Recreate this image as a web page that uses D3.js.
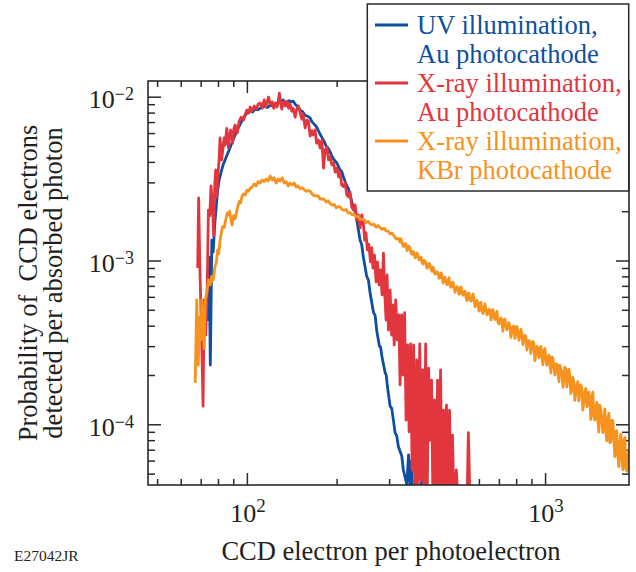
<!DOCTYPE html>
<html>
<head>
<meta charset="utf-8">
<script src="https://cdn.jsdelivr.net/npm/d3@7"></script>
<style>
  html, body { margin: 0; padding: 0; background: #fff; }
  svg { display: block; }
  text { font-family: "Liberation Serif", "Times New Roman", Times, serif; fill: #231f20; }
</style>
</head>
<body>
<svg id="chart" width="636" height="572"></svg>
<script>
// Pulse-height distributions: [CCD electrons per photoelectron, probability per absorbed photon]
const uvAu = [
  [74.3,4.27e-4],[74.7,1.05e-3],[75.4,2.30e-4],[76.3,1.33e-3],[77.1,1.13e-3],[78.0,1.65e-3],[79.0,2.18e-3],
  [79.8,2.69e-3],[80.7,3.10e-3],[82.0,3.47e-3],[83.2,3.83e-3],[84.5,4.11e-3],[85.8,4.41e-3],[87.2,4.73e-3],
  [88.5,5.07e-3],[89.9,5.44e-3],[91.3,5.84e-3],[92.8,6.26e-3],[95.0,6.80e-3],[97.2,7.40e-3],[99.5,7.85e-3],
  [102.6,8.20e-3],[104.5,8.05e-3],[106.6,8.40e-3],[108.7,8.30e-3],[110.8,8.50e-3],[113.0,8.62e-3],[115.2,8.77e-3],
  [117.4,8.60e-3],[119.7,8.90e-3],[122.0,8.80e-3],[124.4,9.00e-3],[126.8,9.20e-3],[129.3,9.30e-3],[132.3,9.55e-3],
  [134.3,9.25e-3],[136.5,9.15e-3],[138.6,9.45e-3],[140.8,9.30e-3],[143.0,9.40e-3],[145.2,9.00e-3],[148.0,8.70e-3],
  [150.9,8.29e-3],[153.8,8.10e-3],[156.8,7.70e-3],[160.0,7.60e-3],[163.0,7.40e-3],[165.5,7.00e-3],[168.1,6.80e-3],
  [170.7,6.60e-3],[173.3,6.26e-3],[176.0,5.90e-3],[178.8,5.60e-3],[181.6,5.35e-3],[184.4,5.00e-3],[187.3,4.85e-3],
  [190.2,4.60e-3],[193.2,4.30e-3],[196.2,4.11e-3],[200.4,3.94e-3],[205.4,3.57e-3],[208.0,3.50e-3],[210.6,3.25e-3],
  [216.3,2.85e-3],[219.0,2.75e-3],[221.9,2.51e-3],[227.7,2.09e-3],[230.6,2.00e-3],[233.6,1.77e-3],[239.7,1.33e-3],
  [242.7,1.25e-3],[245.8,1.05e-3],[252.3,8.0e-4],[255.6,7.6e-4],[259.0,6.3e-4],[265.7,4.85e-4],[269.3,4.6e-4],
  [272.9,3.67e-4],[278.4,3.0e-4],[281.0,2.95e-4],[283.6,2.6e-4],[290.7,2.07e-4],[293.3,2.0e-4],[296.0,1.7e-4],
  [302.2,1.29e-4],[306.0,1.25e-4],[310.0,1.06e-4],[314.0,8.9e-5],[318.1,8.5e-5],[322.3,7.3e-5],[330.7,6.4e-5],
  [334.8,5.26e-5],[343.8,4.3e-5],[348.5,6.5e-5],[352.6,4.2e-5],[356.7,6.0e-5],[361.0,3.0e-5],[369.2,3.0e-5],
  [388.0,4.7e-5],[395.8,3.0e-5]
];
const xrayAu = [
  [68.4,9.0e-4],[68.9,2.41e-3],[69.5,9.8e-4],[70.4,3.76e-4],[71.3,1.29e-4],[71.9,5.74e-4],[72.8,3.51e-4],
  [73.6,6.61e-4],[74.3,2.03e-3],[75.1,1.87e-3],[75.8,2.85e-3],[76.5,2.34e-3],[77.4,1.41e-3],[78.0,2.89e-3],
  [78.6,3.57e-3],[79.3,2.44e-3],[79.8,3.19e-3],[80.7,4.11e-3],[81.3,5.6e-3],[82.3,4.11e-3],[83.0,4.73e-3],
  [83.9,5.6e-3],[84.5,5.07e-3],[85.6,6.4e-3],[86.7,4.87e-3],[87.5,5.84e-3],[88.2,6.26e-3],[89.6,5.2e-3],
  [90.5,6.4e-3],[91.3,6.72e-3],[92.8,6.0e-3],[94.2,7.1e-3],[95.7,7.5e-3],[97.5,7.21e-3],[98.7,7.8e-3],
  [100.0,8.29e-3],[101.4,7.95e-3],[102.6,8.65e-3],[104.2,8.15e-3],[105.8,8.77e-3],[107.4,8.4e-3],[109.1,9.0e-3],
  [110.8,9.15e-3],[112.5,8.5e-3],[114.3,9.55e-3],[115.6,8.65e-3],[117.0,9.3e-3],[118.2,9.95e-3],[119.7,9.0e-3],
  [121.6,9.3e-3],[123.0,8.5e-3],[124.4,9.15e-3],[126.3,8.65e-3],[127.8,9.7e-3],[128.5,1.05e-2],[129.8,9.15e-3],
  [130.9,8.4e-3],[132.8,9.3e-3],[134.9,8.77e-3],[136.4,9.4e-3],[138.0,8.5e-3],[139.7,9.0e-3],[141.5,8.15e-3],
  [142.9,8.5e-3],[145.2,7.5e-3],[146.9,8.4e-3],[149.0,8.77e-3],[150.9,7.95e-3],[152.9,7.3e-3],[154.4,7.85e-3],
  [156.8,6.45e-3],[158.9,7.2e-3],[160.8,7.1e-3],[163.0,5.75e-3],[165.1,6.2e-3],[166.7,5.84e-3],[169.4,6.26e-3],
  [171.3,5.2e-3],[173.7,5.44e-3],[176.1,4.85e-3],[178.5,5.44e-3],[180.7,3.67e-3],[183.0,4.73e-3],[185.5,4.93e-3],
  [187.9,4.11e-3],[190.2,4.3e-3],[192.8,3.83e-3],[195.4,3.95e-3],[197.7,3.47e-3],[200.4,3.67e-3],[203.1,3.24e-3],
  [205.4,3.47e-3],[208.0,2.89e-3],[210.6,2.83e-3],[213.5,2.98e-3],[216.3,2.51e-3],[219.0,2.45e-3],[221.9,2.62e-3],
  [224.8,2.12e-3],[227.7,2.03e-3],[230.7,2.18e-3],[233.6,1.77e-3],[236.6,1.9e-3],[239.7,1.58e-3],[242.7,1.9e-3],
  [245.7,1.7e-3],[248.3,1.33e-3],[250.9,1.48e-3],[253.5,1.16e-3],[256.2,1.26e-3],[259.9,9.8e-4],[262.3,1.2e-3],
  [264.6,9.0e-4],[267.8,1.08e-3],[271.3,7.4e-4],[274.1,9.8e-4],[277.6,7.1e-4],[280.7,8.75e-4],[284.0,6.16e-4],
  [287.1,1.11e-3],[289.6,6.6e-4],[292.9,4.33e-4],[295.2,8.16e-4],[298.5,3.76e-4],[302.2,6.6e-4],[305.8,3.51e-4],
  [308.4,5.35e-4],[312.0,3.05e-4],[315.6,5.74e-4],[319.5,3.27e-4],[323.3,4.65e-4],[326.4,1.74e-4],[330.3,4.65e-4],
  [334.1,2.0e-4],[338.0,4.8e-4],[341.9,1.06e-4],[346.0,3.05e-4],[350.0,9.0e-5],[354.1,3.1e-4],[358.3,5.26e-5],
  [362.4,3.05e-4],[366.4,3.0e-5],[371.2,2.47e-4],[375.0,3.0e-5],[380.0,3.1e-4],[383.8,4.57e-5],[389.0,2.15e-4],
  [392.8,3.0e-5],[397.7,3.1e-4],[402.0,3.0e-5],[407.0,2.2e-4],[411.4,8.0e-5],[416.2,1.86e-4],[421.0,3.0e-5],
  [426.0,1.41e-4],[430.9,3.0e-5],[436.0,1.86e-4],[441.0,3.0e-5],[446.2,2.15e-4],[451.3,3.0e-5],[456.5,1.22e-4],
  [461.8,3.0e-5],[467.1,1.31e-4],[472.7,3.0e-5],[478.1,1.22e-4],[483.7,3.0e-5],[489.3,8.6e-5],[495.1,3.0e-5],
  [504.0,5.26e-5],[512.4,3.0e-5],[547.0,3.0e-5],[553.0,8.9e-5],[561.0,3.0e-5]
];
const xrayKBr = [
  [67.1,1.79e-4],[67.9,5.74e-4],[68.7,2.30e-4],[69.4,4.52e-4],[70.1,3.27e-4],[70.6,5.74e-4],[71.9,2.9e-4],
  [72.5,5.74e-4],[73.4,6.42e-4],[74.4,7.6e-4],[75.3,7.09e-4],[76.2,8.0e-4],[77.1,7.6e-4],[78.0,9.0e-4],
  [79.0,9.8e-4],[79.8,1.16e-3],[80.5,1.1e-3],[81.3,1.33e-3],[82.2,1.49e-3],[82.9,1.61e-3],[83.9,1.59e-3],
  [84.9,1.77e-3],[86.0,1.95e-3],[86.8,1.9e-3],[87.5,2.0e-3],[88.5,1.75e-3],[89.2,1.65e-3],[90.3,1.88e-3],
  [91.3,1.8e-3],[92.6,2.03e-3],[93.5,2.18e-3],[94.4,2.3e-3],[95.3,2.25e-3],[96.4,2.48e-3],[97.4,2.55e-3],
  [98.7,2.51e-3],[100.0,2.69e-3],[101.4,2.65e-3],[102.6,2.77e-3],[104.2,2.81e-3],[105.8,2.93e-3],[107.4,2.85e-3],
  [109.1,3.03e-3],[110.8,2.97e-3],[112.5,3.1e-3],[114.3,3.03e-3],[116.1,3.14e-3],[117.9,3.06e-3],[119.7,3.28e-3],
  [121.6,3.1e-3],[123.5,3.2e-3],[125.4,2.97e-3],[127.3,3.14e-3],[129.3,3.06e-3],[131.3,3.2e-3],[133.4,2.97e-3],
  [135.5,3.03e-3],[137.6,2.85e-3],[139.7,2.97e-3],[141.9,2.89e-3],[144.1,2.97e-3],[146.4,2.81e-3],[148.6,2.85e-3],
  [150.9,2.742e-3],[153.3,2.785e-3],[155.6,2.712e-3],[158.1,2.640e-3],[160.5,2.672e-3],[163.0,2.656e-3],[165.6,2.539e-3],
  [168.1,2.479e-3],[170.8,2.486e-3],[173.4,2.483e-3],[176.1,2.367e-3],[178.8,2.375e-3],[181.6,2.366e-3],[184.4,2.274e-3],
  [187.3,2.317e-3],[190.2,2.227e-3],[193.2,2.182e-3],[196.2,2.198e-3],[199.2,2.097e-3],[202.3,2.133e-3],[205.4,2.123e-3],
  [208.7,2.042e-3],[211.9,2.032e-3],[215.2,2.049e-3],[218.6,1.946e-3],[221.9,1.960e-3],[225.4,1.900e-3],[228.9,1.916e-3],
  [232.5,1.851e-3],[236.1,1.868e-3],[239.7,1.781e-3],[243.5,1.790e-3],[247.3,1.772e-3],[251.1,1.703e-3],[255.0,1.735e-3],
  [259.0,1.675e-3],[263.0,1.648e-3],[267.1,1.664e-3],[271.3,1.594e-3],[275.5,1.634e-3],[279.7,1.590e-3],[284.1,1.548e-3],
  [288.5,1.575e-3],[293.0,1.516e-3],[297.5,1.513e-3],[302.2,1.451e-3],[306.9,1.470e-3],[311.6,1.412e-3],[316.5,1.352e-3],
  [321.4,1.369e-3],[326.4,1.297e-3],[328.9,1.357e-3],[331.4,1.291e-3],[334.0,1.224e-3],[336.6,1.222e-3],[339.2,1.267e-3],
  [341.8,1.255e-3],[344.5,1.149e-3],[347.1,1.184e-3],[349.8,1.224e-3],[352.5,1.182e-3],[355.2,1.112e-3],[358.0,1.090e-3],
  [360.8,1.137e-3],[363.6,1.115e-3],[366.4,1.039e-3],[369.2,1.049e-3],[372.1,1.111e-3],[375.0,1.079e-3],[377.9,1.010e-3],
  [380.8,1.019e-3],[383.8,1.047e-3],[386.7,9.72e-4],[389.7,9.50e-4],[392.7,1.002e-3],[395.8,9.94e-4],[398.8,9.56e-4],
  [401.9,8.97e-4],[405.0,9.15e-4],[408.2,9.61e-4],[411.3,9.41e-4],[414.5,8.79e-4],[417.7,8.59e-4],[420.9,9.10e-4],
  [424.2,8.73e-4],[427.5,8.25e-4],[430.8,8.35e-4],[434.1,8.54e-4],[437.5,8.40e-4],[440.9,7.78e-4],[444.3,7.84e-4],
  [447.8,8.41e-4],[451.2,8.08e-4],[454.7,7.31e-4],[458.2,7.71e-4],[461.8,7.90e-4],[465.3,7.39e-4],[468.9,7.12e-4],
  [472.5,7.53e-4],[476.2,7.85e-4],[479.9,7.02e-4],[483.6,6.87e-4],[487.3,7.32e-4],[491.1,7.37e-4],[494.9,6.89e-4],
  [498.8,6.40e-4],[502.6,6.70e-4],[506.5,6.91e-4],[510.4,6.82e-4],[514.4,6.23e-4],[518.3,6.30e-4],[522.3,6.89e-4],
  [526.4,6.49e-4],[530.5,6.13e-4],[534.6,6.33e-4],[538.8,6.50e-4],[542.9,6.00e-4],[547.1,5.69e-4],[551.3,6.27e-4],
  [555.6,6.33e-4],[559.9,5.78e-4],[564.3,5.65e-4],[568.6,5.76e-4],[573.0,6.26e-4],[577.4,5.81e-4],[581.9,5.23e-4],
  [586.4,5.33e-4],[591.0,5.71e-4],[595.5,5.47e-4],[600.1,4.91e-4],[604.8,5.48e-4],[609.5,5.55e-4],[614.2,4.93e-4],
  [619.0,4.74e-4],[623.7,5.00e-4],[628.6,5.43e-4],[633.4,5.08e-4],[638.3,4.66e-4],[643.3,4.74e-4],[648.3,5.02e-4],
  [653.3,5.01e-4],[658.4,4.34e-4],[663.4,4.64e-4],[668.6,5.01e-4],[673.7,4.61e-4],[678.9,4.36e-4],[684.2,4.68e-4],
  [689.5,4.90e-4],[694.9,4.21e-4],[700.3,4.10e-4],[705.7,4.37e-4],[711.2,4.46e-4],[716.6,4.17e-4],[722.2,3.70e-4],
  [727.8,4.34e-4],[733.5,4.39e-4],[739.1,3.95e-4],[744.9,3.77e-4],[750.6,4.09e-4],[756.5,4.18e-4],[762.3,3.92e-4],
  [768.2,3.39e-4],[774.1,3.69e-4],[780.1,3.93e-4],[786.2,3.98e-4],[792.3,3.34e-4],[798.4,3.64e-4],[804.6,3.96e-4],
  [810.8,3.66e-4],[817.1,3.26e-4],[823.4,3.44e-4],[829.8,3.80e-4],[836.2,3.55e-4],[842.7,3.06e-4],[849.2,3.31e-4],
  [855.8,3.49e-4],[862.4,3.42e-4],[869.1,2.84e-4],[875.8,3.07e-4],[882.6,3.24e-4],[889.4,3.18e-4],[896.3,2.70e-4],
  [903.3,2.98e-4],[910.3,3.21e-4],[917.3,3.11e-4],[924.5,2.44e-4],[931.6,2.69e-4],[938.9,2.99e-4],[946.1,2.94e-4],
  [953.5,2.55e-4],[960.8,2.78e-4],[968.3,2.99e-4],[975.7,2.59e-4],[983.3,2.31e-4],[990.9,2.81e-4],[998.6,2.90e-4],
  [1006,2.52e-4],[1014,2.29e-4],[1022,2.57e-4],[1030,2.65e-4],[1038,2.32e-4],[1046,2.06e-4],[1054,2.58e-4],
  [1062,2.54e-4],[1071,2.25e-4],[1079,2.00e-4],[1087,2.33e-4],[1095,2.34e-4],[1104,2.09e-4],[1113,1.82e-4],
  [1121,2.30e-4],[1130,2.16e-4],[1139,2.07e-4],[1148,1.68e-4],[1156,1.90e-4],[1165,2.23e-4],[1174,2.19e-4],
  [1183,1.69e-4],[1193,1.87e-4],[1202,2.16e-4],[1211,1.98e-4],[1220,1.54e-4],[1230,1.63e-4],[1240,1.93e-4],
  [1249,1.81e-4],[1259,1.40e-4],[1269,1.58e-4],[1279,1.75e-4],[1288,1.82e-4],[1298,1.39e-4],[1308,1.57e-4],
  [1318,1.74e-4],[1329,1.64e-4],[1339,1.22e-4],[1349,1.37e-4],[1360,1.58e-4],[1370,1.66e-4],[1381,1.28e-4],
  [1392,1.35e-4],[1403,1.57e-4],[1413,1.39e-4],[1424,1.07e-4],[1435,1.46e-4],[1446,1.57e-4],[1458,1.12e-4],
  [1469,1.06e-4],[1480,1.28e-4],[1492,1.36e-4],[1503,1.07e-4],[1515,8.97e-5],[1527,1.31e-4],[1539,1.21e-4],
  [1551,1.03e-4],[1563,8.9e-5],[1575,1.08e-4],[1587,1.24e-4],[1599,9.15e-5],[1611,7.92e-5],[1624,1.075e-4],
  [1637,1.17e-4],[1649,7.73e-5],[1662,7.79e-5],[1675,1.056e-4],[1688,1.05e-4],[1701,8.16e-5],[1714,6.35e-5],
  [1727,9.01e-5],[1740,9.13e-5],[1754,6.44e-5],[1768,5.51e-5],[1782,7.62e-5],[1796,8.72e-5],[1809,6.33e-5],
  [1823,5.28e-5],[1838,8.05e-5],[1852,8.31e-5],[1866,5.36e-5],[1881,5.17e-5],[1895,6.45e-5],[1910,6.91e-5],
  [1925,5.09e-5]
];

// Legend entries (two lines each) and series colours, in drawing order
const seriesLabels = [
  ["UV illumination,", "Au photocathode"],
  ["X-ray illumination,", "Au photocathode"],
  ["X-ray illumination,", "KBr photocathode"]
];
const seriesColors = ["#0d4fa0", "#e2363f", "#f6921e"];

// Axis limits and labelled decades
const xDomain = [46.6, 1912];
const yDomain = [4.26e-5, 1.247e-2];
const xTickValues = [100, 1000];
const xTickLabels = [["10", "2"], ["10", "3"]];
const yTickValues = [1e-4, 1e-3, 1e-2];
const yTickLabels = [["10", "\u22124"], ["10", "\u22123"], ["10", "\u22122"]];

const xTitle = "CCD electron per photoelectron";
const yTitleLines = ["Probability of  CCD electrons", "detected per absorbed photon"];
const figureId = "E27042JR";

const svg = d3.select("#chart");
const plot = { left: 148, right: 629, top: 81, bottom: 485 };
const frameColor = "#2a2a2a";

const x = d3.scaleLog().domain(xDomain).range([plot.left, plot.right]);
const y = d3.scaleLog().domain(yDomain).range([plot.bottom, plot.top]);

const isDecade = t => Math.abs(Math.log10(t) - Math.round(Math.log10(t))) < 1e-6;
const xMinor = x.ticks().filter(t => !isDecade(t));
const yMinor = y.ticks().filter(t => !isDecade(t));

// Inward-pointing ticks on all four sides
function tickLayer(axis, transform) {
  const g = svg.append("g").attr("transform", transform).call(axis);
  g.select(".domain").remove();
  g.selectAll(".tick text").remove();
  g.selectAll(".tick line").attr("stroke", frameColor).attr("stroke-width", 1.5);
  return g;
}
tickLayer(d3.axisBottom(x).tickValues(xTickValues).tickSize(-12), `translate(0,${plot.bottom})`);
tickLayer(d3.axisBottom(x).tickValues(xMinor).tickSize(-6), `translate(0,${plot.bottom})`);
tickLayer(d3.axisTop(x).tickValues(xTickValues).tickSize(-12), `translate(0,${plot.top})`);
tickLayer(d3.axisTop(x).tickValues(xMinor).tickSize(-6), `translate(0,${plot.top})`);
tickLayer(d3.axisLeft(y).tickValues(yTickValues).tickSize(-13), `translate(${plot.left},0)`);
tickLayer(d3.axisLeft(y).tickValues(yMinor).tickSize(-7), `translate(${plot.left},0)`);
tickLayer(d3.axisRight(y).tickValues(yTickValues).tickSize(-13), `translate(${plot.right},0)`);
tickLayer(d3.axisRight(y).tickValues(yMinor).tickSize(-7), `translate(${plot.right},0)`);

// Data curves, clipped to the plotting frame
svg.append("clipPath").attr("id", "plot-clip")
  .append("rect")
  .attr("x", plot.left).attr("y", plot.top)
  .attr("width", plot.right - plot.left).attr("height", plot.bottom - plot.top);

const line = d3.line().x(d => x(d[0])).y(d => y(d[1]));
const curves = svg.append("g").attr("clip-path", "url(#plot-clip)");
[uvAu, xrayAu, xrayKBr].forEach((series, i) => {
  curves.append("path")
    .datum(series)
    .attr("d", line)
    .attr("fill", "none")
    .attr("stroke", seriesColors[i])
    .attr("stroke-width", 2.8)
    .attr("stroke-linejoin", "round");
});

// Frame
svg.append("rect")
  .attr("x", plot.left).attr("y", plot.top)
  .attr("width", plot.right - plot.left).attr("height", plot.bottom - plot.top)
  .attr("fill", "none").attr("stroke", frameColor).attr("stroke-width", 1.6);

// Decade labels with superscript exponents
const xLab = svg.append("g").selectAll("text").data(xTickValues).join("text")
  .attr("x", d => x(d) + 1).attr("y", 522)
  .attr("text-anchor", "middle").attr("font-size", 26);
xLab.append("tspan").text((d, i) => xTickLabels[i][0]);
xLab.append("tspan").attr("font-size", 19).attr("dy", -10).text((d, i) => xTickLabels[i][1]);

const yLab = svg.append("g").selectAll("text").data(yTickValues).join("text")
  .attr("x", 134).attr("y", d => y(d) + 11.5)
  .attr("text-anchor", "end").attr("font-size", 26);
yLab.append("tspan").text((d, i) => yTickLabels[i][0]);
yLab.append("tspan").attr("font-size", 18).attr("dy", -8).text((d, i) => yTickLabels[i][1]);

// Axis titles
svg.append("text")
  .attr("x", 391).attr("y", 560)
  .attr("text-anchor", "middle").attr("font-size", 26.5)
  .text(xTitle);

const yTitle = svg.append("g").attr("transform", "translate(0,283) rotate(-90)");
yTitle.selectAll("text").data(yTitleLines).join("text")
  .attr("x", 0).attr("y", (d, i) => 37 + i * 25)
  .attr("text-anchor", "middle").attr("font-size", 26.5)
  .style("white-space", "pre")
  .text(d => d);

svg.append("text")
  .attr("x", 14).attr("y", 561)
  .attr("font-size", 15.5)
  .text(figureId);

// Legend
const legend = svg.append("g");
legend.append("rect")
  .attr("x", 367.3).attr("y", 4)
  .attr("width", 261.4).attr("height", 187)
  .attr("fill", "#fff").attr("stroke", frameColor).attr("stroke-width", 1.5);
seriesLabels.forEach((lines, i) => {
  const top = 25 + i * 58;
  legend.append("line")
    .attr("x1", 375).attr("x2", 408)
    .attr("y1", top).attr("y2", top)
    .attr("stroke", seriesColors[i]).attr("stroke-width", 2.8);
  lines.forEach((t, j) => {
    legend.append("text")
      .attr("x", 417).attr("y", top + 8.5 + j * 29)
      .attr("font-size", 26.5)
      .style("fill", seriesColors[i])
      .text(t);
  });
});
</script>
</body>
</html>
